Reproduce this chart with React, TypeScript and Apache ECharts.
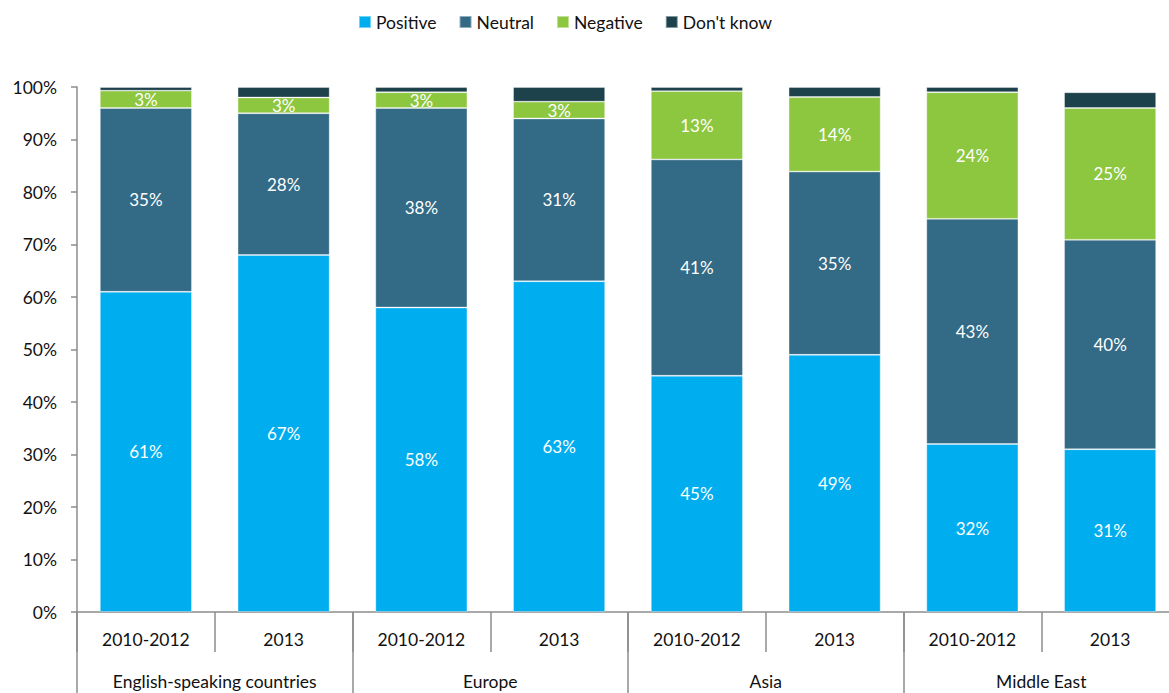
import React, { useEffect, useRef } from "react";
import * as echarts from "echarts";

const years = ["2010-2012", "2013", "2010-2012", "2013", "2010-2012", "2013", "2010-2012", "2013"];
const regions = ["English-speaking countries", "Europe", "Asia", "Middle East"];
const yTicks = [0, 10, 20, 30, 40, 50, 60, 70, 80, 90, 100];

// segment heights (%)
const positive = [61, 68, 58, 63, 45, 49, 32, 31];
const neutral = [35, 27, 38, 31, 41.2, 34.9, 42.9, 39.9];
const negative = [3.3, 3, 3, 3.2, 13, 14.2, 24.1, 25.1];
const dontKnow = [0.7, 2, 1, 2.8, 0.8, 1.9, 1, 3];

// printed labels
const positiveLabels = [61, 67, 58, 63, 45, 49, 32, 31];
const neutralLabels = [35, 28, 38, 31, 41, 35, 43, 40];
const negativeLabels = [3, 3, 3, 3, 13, 14, 24, 25];

const FONT = "Lato, 'Noto Sans', sans-serif";
const AXIS_GREY = "#8c8c8c";

export default function App() {
  const ref = useRef<HTMLDivElement>(null);
  useEffect(() => {
    if (!ref.current) return;
    const chart = echarts.init(ref.current, undefined, { renderer: "svg" });
    const mkLabel = (arr: number[]) => ({
      show: true,
      position: "inside",
      color: "#ffffff",
      fontSize: 17,
      fontFamily: FONT,
      formatter: (p: any) => arr[p.dataIndex] + "%",
    });
    const seg = (name: string, data: number[], color: string, labels?: number[]) => ({
      name,
      type: "bar",
      stack: "all",
      data,
      barWidth: 92,
      itemStyle: { color, borderColor: "rgba(255,255,255,0.45)", borderWidth: 0.8 },
      label: labels ? mkLabel(labels) : { show: false },
      emphasis: { disabled: true },
    });
    chart.setOption({
      animation: false,
      textStyle: { fontFamily: FONT },
      legend: {
        top: 8,
        left: 353,
        itemWidth: 12,
        itemHeight: 12,
        itemGap: 22,
        icon: "rect",
        textStyle: { fontSize: 17.5, color: "#111", fontFamily: FONT },
        data: ["Positive", "Neutral", "Negative", "Don't know"],
      },
      grid: { left: 77, top: 87, bottom: 81, width: 1102, outerBoundsMode: "none", containLabel: false },
      xAxis: [
        {
          type: "category",
          data: years,
          position: "bottom",
          axisLine: { show: true, lineStyle: { color: AXIS_GREY, width: 1.5 } },
          axisTick: { show: true, length: 40, interval: 0, lineStyle: { color: AXIS_GREY, width: 1.5 } },
          axisLabel: { interval: 0, margin: 18, fontSize: 17.5, color: "#111", fontFamily: FONT },
        },
        {
          type: "category",
          data: regions,
          position: "bottom",
          axisLine: { show: false },
          axisTick: { show: true, length: 81, interval: 0, lineStyle: { color: AXIS_GREY, width: 1.5 } },
          axisLabel: { interval: 0, margin: 60, fontSize: 17.5, color: "#111", fontFamily: FONT },
        },
      ],
      yAxis: {
        type: "value",
        min: 0,
        max: 100,
        interval: 10,
        axisLine: { show: true, lineStyle: { color: AXIS_GREY, width: 1.5 } },
        axisTick: { show: true, length: 6, lineStyle: { color: AXIS_GREY, width: 1.5 } },
        splitLine: { show: false },
        axisLabel: {
          margin: 20,
          fontSize: 17.5,
          color: "#111",
          fontFamily: FONT,
          formatter: (v: number) => (yTicks.includes(v) ? v + "%" : ""),
        },
      },
      series: [
        seg("Positive", positive, "#00aeef", positiveLabels),
        seg("Neutral", neutral, "#336a86", neutralLabels),
        seg("Negative", negative, "#8dc63f", negativeLabels),
        seg("Don't know", dontKnow, "#1e424c"),
      ],
    });
    return () => chart.dispose();
  }, []);
  return (
    <div
      ref={ref}
      style={{ position: "absolute", left: 0, top: 0, width: 1169, height: 693, background: "#fff" }}
    />
  );
}
